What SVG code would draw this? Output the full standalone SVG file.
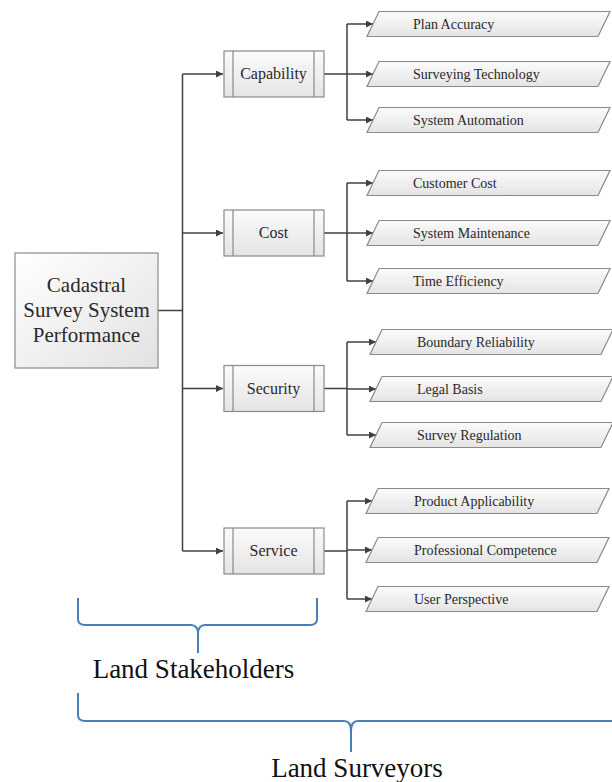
<svg xmlns="http://www.w3.org/2000/svg" width="612" height="782" viewBox="0 0 612 782">
<defs>
<linearGradient id="gBox" x1="0" y1="0" x2="0" y2="1">
<stop offset="0" stop-color="#fbfbfb"/>
<stop offset="1" stop-color="#e4e4e4"/>
</linearGradient>
<linearGradient id="gMain" x1="0" y1="0" x2="1" y2="1">
<stop offset="0" stop-color="#ffffff"/>
<stop offset="1" stop-color="#e2e2e2"/>
</linearGradient>
<marker id="arr" viewBox="0 0 10 10" refX="10" refY="5" markerWidth="9" markerHeight="7" markerUnits="userSpaceOnUse" orient="auto">
<path d="M0,0 L10,5 L0,10 Z" fill="#404040"/>
</marker>
</defs>
<style>
.box{fill:url(#gBox);stroke:#8a8a8a;stroke-width:1.2}
.main{fill:url(#gMain);stroke:#8a8a8a;stroke-width:1.2}
.inner{stroke:#8a8a8a;stroke-width:1.2;fill:none}
.leaf{fill:url(#gBox);stroke:#8a8a8a;stroke-width:1.2}
.ln{stroke:#404040;stroke-width:1.5;fill:none}
.ar{stroke:#404040;stroke-width:1.5;fill:none;marker-end:url(#arr)}
text{font-family:'Liberation Serif','Times New Roman','DejaVu Serif',serif;fill:#2a2a2a}
.mt{font-size:21px;text-anchor:middle}
.gt{font-size:16px;text-anchor:middle}
.lt{font-size:14px}
.bt{font-size:27px;text-anchor:middle;fill:#111}
.br{stroke:#4a7ebb;stroke-width:2;fill:none}
</style>

<g id="connectors">
<path class="ln" d="M158,310.5 H182.5"/>
<path class="ln" d="M182.5,74 V551"/>
<path class="ar" d="M182.5,74 H223"/>
<path class="ar" d="M182.5,233 H223"/>
<path class="ar" d="M182.5,388.5 H223"/>
<path class="ar" d="M182.5,551 H223"/>
<path class="ln" d="M324,74 H347 M347,24 V120"/>
<path class="ar" d="M347,24 H373"/>
<path class="ar" d="M347,74 H373"/>
<path class="ar" d="M347,120 H373"/>
<path class="ln" d="M324,233 H347 M347,183 V281"/>
<path class="ar" d="M347,183 H373"/>
<path class="ar" d="M347,233 H373"/>
<path class="ar" d="M347,281 H373"/>
<path class="ln" d="M324,388.5 H347 M347,342 V435"/>
<path class="ar" d="M347,342 H376"/>
<path class="ar" d="M347,389 H376"/>
<path class="ar" d="M347,435 H376"/>
<path class="ln" d="M324,551 H347 M347,501 V599"/>
<path class="ar" d="M347,501 H372"/>
<path class="ar" d="M347,550 H372"/>
<path class="ar" d="M347,599 H372"/>
</g>

<g id="main">
<rect class="main" x="15" y="253" width="143" height="115"/>
<text class="mt" x="86.5" y="292" font-family="Liberation Serif, serif">Cadastral</text>
<text class="mt" x="86.5" y="317" font-family="Liberation Serif, serif">Survey System</text>
<text class="mt" x="86.5" y="342" font-family="Liberation Serif, serif">Performance</text>
</g>

<g id="capability">
<rect class="box" x="224" y="51" width="100" height="46"/>
<path class="inner" d="M233,51 V97 M314,51 V97"/>
<text class="gt" x="273.5" y="79">Capability</text>
</g>
<g id="cost">
<rect class="box" x="224" y="210" width="100" height="46"/>
<path class="inner" d="M233,210 V256 M314,210 V256"/>
<text class="gt" x="273.5" y="238">Cost</text>
</g>
<g id="security">
<rect class="box" x="224" y="365.5" width="100" height="46"/>
<path class="inner" d="M233,365.5 V411.5 M314,365.5 V411.5"/>
<text class="gt" x="273.5" y="394">Security</text>
</g>
<g id="service">
<rect class="box" x="224" y="528" width="100" height="46"/>
<path class="inner" d="M233,528 V574 M314,528 V574"/>
<text class="gt" x="273.5" y="556">Service</text>
</g>

<g id="plan-accuracy">
<polygon class="leaf" points="379,11.5 610,11.5 598,36.5 367,36.5"/>
<text class="lt" x="413" y="29">Plan Accuracy</text>
</g>
<g id="surveying-technology">
<polygon class="leaf" points="379,61.5 610,61.5 598,86.5 367,86.5"/>
<text class="lt" x="413" y="79">Surveying Technology</text>
</g>
<g id="system-automation">
<polygon class="leaf" points="379,107.5 610,107.5 598,132.5 367,132.5"/>
<text class="lt" x="413" y="125">System Automation</text>
</g>

<g id="customer-cost">
<polygon class="leaf" points="379,170.5 610,170.5 598,195.5 367,195.5"/>
<text class="lt" x="413" y="188">Customer Cost</text>
</g>
<g id="system-maintenance">
<polygon class="leaf" points="379,220.5 610,220.5 598,245.5 367,245.5"/>
<text class="lt" x="413" y="238">System Maintenance</text>
</g>
<g id="time-efficiency">
<polygon class="leaf" points="379,268.5 610,268.5 598,293.5 367,293.5"/>
<text class="lt" x="413" y="286">Time Efficiency</text>
</g>

<g id="boundary-reliability">
<polygon class="leaf" points="382,329.5 613,329.5 601,354.5 370,354.5"/>
<text class="lt" x="417" y="347">Boundary Reliability</text>
</g>
<g id="legal-basis">
<polygon class="leaf" points="382,376.5 613,376.5 601,401.5 370,401.5"/>
<text class="lt" x="417" y="394">Legal Basis</text>
</g>
<g id="survey-regulation">
<polygon class="leaf" points="382,422.5 613,422.5 601,447.5 370,447.5"/>
<text class="lt" x="417" y="440">Survey Regulation</text>
</g>

<g id="product-applicability">
<polygon class="leaf" points="378,488.5 609,488.5 597,513.5 366,513.5"/>
<text class="lt" x="414" y="506">Product Applicability</text>
</g>
<g id="professional-competence">
<polygon class="leaf" points="378,537.5 609,537.5 597,562.5 366,562.5"/>
<text class="lt" x="414" y="555">Professional Competence</text>
</g>
<g id="user-perspective">
<polygon class="leaf" points="378,586.5 609,586.5 597,611.5 366,611.5"/>
<text class="lt" x="414" y="604">User Perspective</text>
</g>

<g id="land-stakeholders">
<path class="br" d="M78,598 V619 Q78,625 85,625 H191 Q198,625 198,634 V653 M198,634 Q198,625 205,625 H310 Q317,625 317,619 V598"/>
<text class="bt" x="193.5" y="678">Land Stakeholders</text>
</g>
<g id="land-surveyors">
<path class="br" d="M78,693 V715 Q78,721 85,721 H344 Q351,721 351,731 V752 M351,731 Q351,721 358,721 H614"/>
<text class="bt" x="357" y="777">Land Surveyors</text>
</g>
</svg>
